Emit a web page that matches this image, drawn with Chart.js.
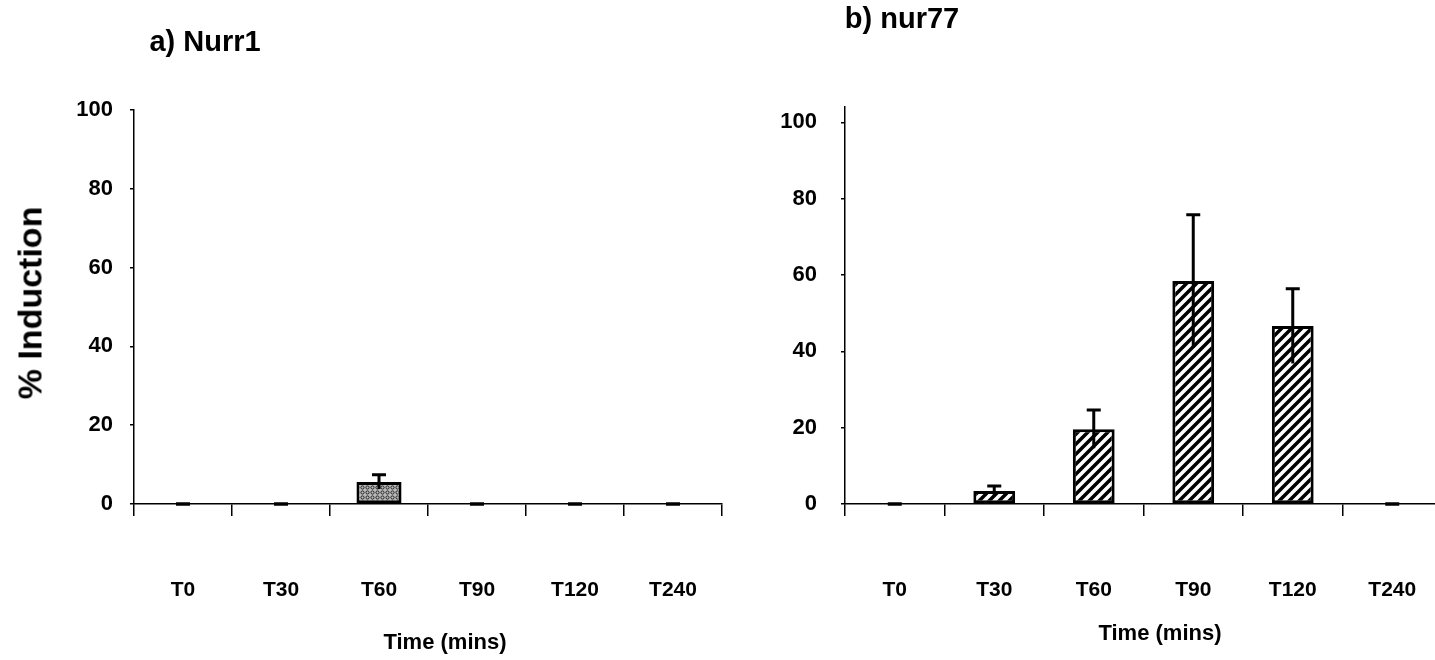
<!DOCTYPE html>
<html>
<head>
<meta charset="utf-8">
<script src="https://cdn.jsdelivr.net/npm/chart.js@4.4.0/dist/chart.umd.min.js"></script>
<style>
  html, body { margin: 0; padding: 0; background: #fff; overflow: hidden; }
  body { width: 1435px; height: 660px; position: relative; font-family: "Liberation Sans", Arial, sans-serif; font-weight: bold; color: #000; }
  .box { position: absolute; top: 0; height: 660px; }
  .label { position: absolute; white-space: nowrap; transform: translate(-50%, -50%); }
</style>
</head>
<body>
<div class="box" style="left:0;width:740px"><canvas id="chart-nurr1"></canvas></div>
<div class="box" style="left:740px;width:720px"><canvas id="chart-nur77"></canvas></div>

<div class="label" style="left:205px;top:41px;font-size:29px">a) Nurr1</div>
<div class="label" style="left:902px;top:18px;font-size:29px">b) nur77</div>
<div class="label" style="left:30px;top:303px;font-size:34px;transform:translate(-50%,-50%) rotate(-90deg)">% Induction</div>
<div class="label" style="left:445px;top:642px;font-size:22px">Time (mins)</div>
<div class="label" style="left:1160px;top:633px;font-size:22px">Time (mins)</div>

<script>
var CATEGORIES = ["T0", "T30", "T60", "T90", "T120", "T240"];
var NURR1_VALUES = [0, 0, 5.6, 0, 0, 0];
var NURR1_ERRORS = [0, 0, 1.8, 0, 0, 0];
var NUR77_VALUES = [0, 3.4, 19.6, 58.4, 46.6, 0];
var NUR77_ERRORS = [0, 1.3, 5, 17.4, 9.8, 0];
var Y_TICKS = [0, 20, 40, 60, 80, 100];

var FONT = "'Liberation Sans', Arial, sans-serif";

// diagonal hatch for nur77
function hatchPattern() {
  var c = document.createElement("canvas");
  c.width = 10; c.height = 10;
  var g = c.getContext("2d");
  g.fillStyle = "#fff";
  g.fillRect(0, 0, 10, 10);
  g.strokeStyle = "#000";
  g.lineWidth = 3.5;
  g.beginPath();
  g.moveTo(-2, 12); g.lineTo(12, -2);
  g.moveTo(-7, 7); g.lineTo(7, -7);
  g.moveTo(3, 17); g.lineTo(17, 3);
  g.stroke();
  return g.createPattern(c, "repeat");
}

// speckled fill for Nurr1
function dotPattern() {
  var c = document.createElement("canvas");
  c.width = 5; c.height = 5;
  var g = c.getContext("2d");
  g.fillStyle = "#bbb";
  g.fillRect(0, 0, 5, 5);
  g.strokeStyle = "#222";
  g.lineWidth = 1;
  g.beginPath();
  g.arc(2.5, 2.5, 1.6, 0, Math.PI * 2);
  g.stroke();
  return g.createPattern(c, "repeat");
}

var errorBarsPlugin = {
  id: "errorBars",
  afterDatasetsDraw: function (chart, args, opts) {
    var errs = opts.errors || [];
    var meta = chart.getDatasetMeta(0);
    var y = chart.scales.y;
    var ctx = chart.ctx;
    var values = chart.data.datasets[0].data;
    ctx.save();
    ctx.strokeStyle = "#000";
    ctx.lineWidth = 3;
    meta.data.forEach(function (bar, i) {
      var e = errs[i];
      if (!e) return;
      var top = y.getPixelForValue(values[i] + e);
      var low = y.getPixelForValue(values[i] - e);
      ctx.beginPath();
      ctx.moveTo(bar.x, low);
      ctx.lineTo(bar.x, top);
      ctx.moveTo(bar.x - 7, top);
      ctx.lineTo(bar.x + 7, top);
      ctx.stroke();
    });
    ctx.restore();
  },
};

function zeroMarks(values) {
  return values.map(function (v) { return v === 0 ? 0 : null; });
}

function buildChart(id, values, errors, fill, opt) {
  var ctx = document.getElementById(id);
  return new Chart(ctx, {
    type: "bar",
    data: {
      labels: CATEGORIES,
      datasets: [
        {
          data: values,
          backgroundColor: fill,
          borderColor: "#000",
          borderWidth: 3,
          borderSkipped: false,
          barPercentage: opt.barPct,
          categoryPercentage: 1,
          clip: false,
          order: 2,
        },
        {
          type: "line",
          data: zeroMarks(values),
          showLine: false,
          pointStyle: "line",
          pointRadius: 7,
          pointBorderWidth: 3.5,
          borderColor: "#000",
          clip: false,
          order: 1,
        },
      ],
    },
    options: {
      responsive: true,
      maintainAspectRatio: false,
      animation: false,
      layout: { padding: { left: 0, right: 18, top: opt.top, bottom: 0 } },
      plugins: {
        legend: { display: false },
        tooltip: { enabled: false },
        errorBars: { errors: errors },
      },
      scales: {
        x: {
          grid: { drawOnChartArea: false, tickLength: 12, color: "#000", lineWidth: 1.5 },
          border: { color: "#000", width: 1.5 },
          // tall line height pushes the labels well below the axis
          ticks: { color: "#000", padding: 4, font: { family: FONT, size: 21, weight: "bold", lineHeight: "140px" } },
          afterFit: function (s) { s.height = 156; },
        },
        y: {
          min: 0,
          max: opt.max,
          grid: { drawOnChartArea: false, tickLength: 4, color: "#000", lineWidth: 1.5 },
          border: { color: "#000", width: 1.5 },
          ticks: { color: "#000", padding: opt.tickPad, font: { family: FONT, size: 22, weight: "bold" } },
          afterBuildTicks: function (s) {
            s.ticks = Y_TICKS.map(function (v) { return { value: v }; });
          },
          afterFit: function (s) { s.width = opt.yWidth; },
        },
      },
    },
    plugins: [errorBarsPlugin],
  });
}

buildChart("chart-nurr1", NURR1_VALUES, NURR1_ERRORS, dotPattern(),
  { barPct: 0.46, top: 110, max: 100, yWidth: 134, tickPad: 17 });
buildChart("chart-nur77", NUR77_VALUES, NUR77_ERRORS, hatchPattern(),
  { barPct: 0.42, top: 107, max: 104, yWidth: 105, tickPad: 24 });
</script>
</body>
</html>
